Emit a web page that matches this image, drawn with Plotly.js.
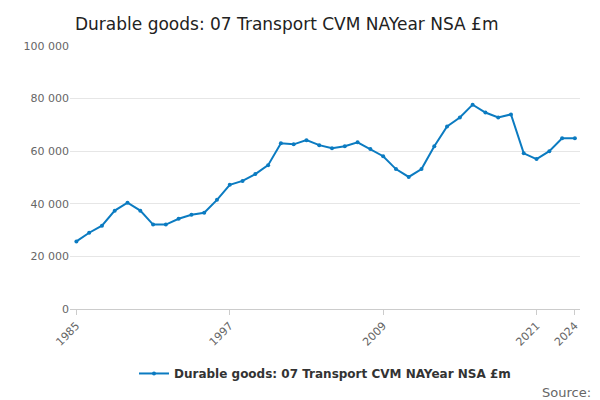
<!DOCTYPE html>
<html>
<head>
<meta charset="utf-8">
<script src="https://cdn.plot.ly/plotly-3.0.1.min.js"></script>
<style>body{margin:0}</style>
</head>
<body>
<div id="chart" style="width:600px;height:400px"></div>
<script>
const years = [];
for (let y = 1985; y <= 2024; y++) years.push(y);
const values = [25700, 29000, 31700, 37400, 40400, 37400, 32100, 32100, 34300, 35800,
  36600, 41500, 47200, 48700, 51300, 54700, 63000, 62600, 64200, 62300,
  61100, 61900, 63400, 60800, 58100, 53200, 50200, 53200, 61900, 69400,
  72800, 77700, 74700, 72800, 74000, 59200, 57000, 60000, 64900, 64900];
const tickYears = [1985, 1997, 2009, 2021, 2024];
const seriesName = "Durable goods: 07 Transport CVM NAYear NSA £m";

const data = [{
  x: years, y: values, name: seriesName, type: "scatter", mode: "lines+markers",
  line: {color: "#0b7bc1", width: 2}, marker: {color: "#0b7bc1", size: 4}
}];

const layout = {
  width: 600, height: 400,
  font: {family: "DejaVu Sans", color: "#333"},
  title: {text: seriesName, x: 0.125, xanchor: "left", y: 0.955, font: {size: 17, color: "#222"}},
  margin: {l: 70, r: 20, t: 46, b: 89},
  xaxis: {
    range: [1984.5, 2024.4], tickvals: tickYears, ticktext: tickYears.map(String),
    tickangle: -45, ticks: "outside", ticklen: 5, tickcolor: "#ccc",
    showgrid: false, showline: true, linecolor: "#ccc", tickfont: {size: 11, color: "#666"}
  },
  yaxis: {
    range: [0, 100000], dtick: 20000, separatethousands: true, tickformat: ",d",
    gridcolor: "#e6e6e6", zeroline: false, tickfont: {size: 11, color: "#666"}
  },
  separators: ". ",
  showlegend: true,
  legend: {orientation: "h", x: 0.5, xanchor: "center", y: -0.19, yanchor: "top",
    font: {size: 12, color: "#333", weight: "bold"}},
  annotations: [{text: "Source:", xref: "paper", yref: "paper", x: 1.025, y: -0.28,
    xanchor: "right", yanchor: "top", showarrow: false, font: {size: 13, color: "#666"}}]
};

Plotly.newPlot("chart", data, layout, {displayModeBar: false});
</script>
</body>
</html>
